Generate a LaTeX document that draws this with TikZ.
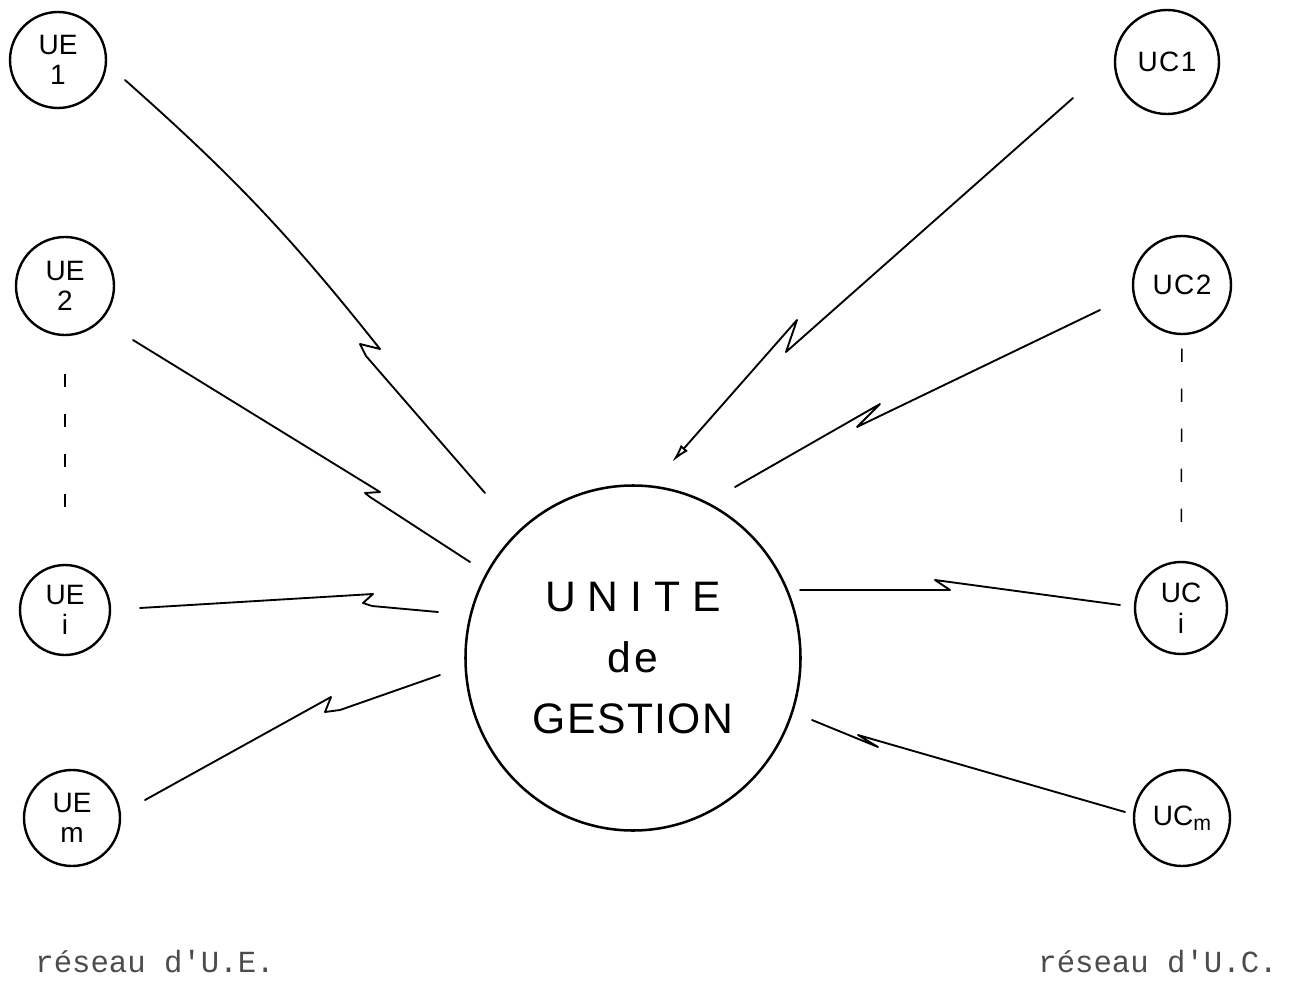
\documentclass[tikz,border=0pt]{standalone}
\usepackage{fontspec}
\setmainfont{Liberation Sans}
\newfontfamily\typewriter{Liberation Mono}
\usetikzlibrary{shapes.geometric,arrows.meta}
\begin{document}
\begin{tikzpicture}[x=0.75pt,y=-0.75pt,
  unit/.style={circle,draw,line width=1.8pt,minimum size=#1*0.75pt,inner sep=0pt,
    font=\fontsize{21}{23}\selectfont,align=center},
  bolt/.style={line width=1.4pt,line join=round,line cap=round},
  dots/.style={line width=1.1pt,dash pattern=on 10pt off 20pt},
  caption/.style={font=\typewriter\fontsize{23}{23}\selectfont,text=black!70}]
\useasboundingbox (0,0) rectangle (1311,985);

% units
\node[unit=96] (ue1) at (58,60) {UE\\1};
\node[unit=98] (ue2) at (65,286) {UE\\2};
\node[unit=90] (uei) at (65,610) {UE\\i};
\node[unit=96] (uem) at (72,818) {UE\\m};
\node[unit=104] (uc1) at (1167,62) {U\kern1pt C\kern1pt 1};
\node[unit=98] (uc2) at (1182,285) {U\kern1pt C\kern1pt 2};
\node[unit=92] (uci) at (1181,608) {UC\\i};
\node[unit=96] (ucm) at (1182,818) {UC\raisebox{-0.3ex}{\fontsize{16}{16}\selectfont m}};

% central unit
\node[ellipse,draw,line width=1.9pt,minimum width=335*0.75pt,minimum height=345*0.75pt,
  inner sep=0pt,align=center,font=\fontsize{32}{46}\selectfont] (gu) at (633,658)
  {U\kern9pt N\kern9pt I\kern9pt T\kern9pt E\\d\kern2pt e\\G\kern1pt E\kern1pt S\kern1pt T\kern1pt I\kern1pt O\kern1pt N};

% dashed links between units
\draw[dots,shorten <=28pt,shorten >=28pt] (ue2) -- (uei);
\draw[dots,shorten <=10pt,shorten >=28pt] (uc2) -- (uci);

% free ends of the lightning connectors
\coordinate (ue1o) at (125,80);   \coordinate (g1) at (485,493);
\coordinate (ue2o) at (133,340);  \coordinate (g2) at (470,562);
\coordinate (ueio) at (140,608);  \coordinate (g3) at (438,612);
\coordinate (uemo) at (145,800);  \coordinate (g4) at (440,675);
\coordinate (uc1o) at (1073,98);  \coordinate (g5) at (672,462);
\coordinate (uc2o) at (1100,310); \coordinate (g6) at (735,487);
\coordinate (ucio) at (1120,605); \coordinate (g7) at (800,590);
\coordinate (ucmo) at (1125,812); \coordinate (g8) at (812,720);

\draw[bolt] (ue1o) to[bend left=5] (380,349) -- (360,344) -- (366,356) -- (g1);
\draw[bolt] (ue2o) -- (380,492) -- (365,493) -- (370,497) -- (g2);
\draw[bolt] (ueio) -- (373,594) -- (363,603) -- (372,606) -- (g3);
\draw[bolt] (uemo) -- (331,697) -- (325,712) -- (340,710) -- (g4);
\draw[bolt,-{Latex[open,length=14pt,width=7pt]}] (uc1o) -- (786,352) -- (797,320) -- (g5);
\draw[bolt] (uc2o) -- (857,427) -- (880,404) -- (g6);
\draw[bolt] (ucio) -- (935,580) -- (950,590) -- (g7);
\draw[bolt] (ucmo) -- (858,735) -- (878,747) -- (g8);

% captions
\node[caption] (cap1) at (155,962) {réseau d\textquotesingle U.E.};
\node[caption] (cap2) at (1158,962) {réseau d\textquotesingle U.C.};
\end{tikzpicture}
\end{document}
